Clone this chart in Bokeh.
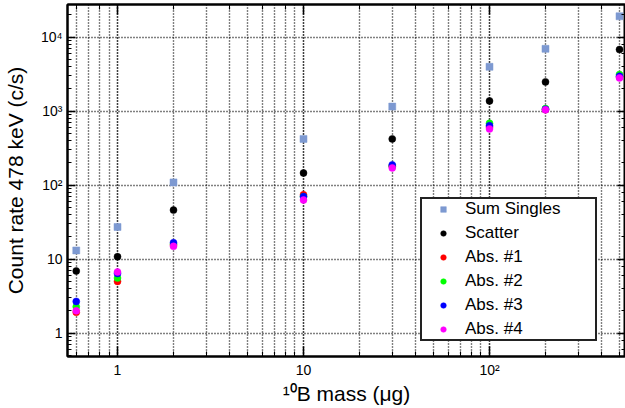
from bokeh.plotting import figure
from bokeh.models import (Range1d, LogAxis, LogTicker, Legend, LegendItem,
                          ColumnDataSource)
from bokeh.embed import file_html
from bokeh.resources import INLINE

# ---- data ----
mass = [0.6, 1, 2, 10, 30, 100, 200, 500]
sum_singles = [13.1, 27.2, 109, 422, 1154, 3980, 6970, 19200]
scatter = [6.9, 10.8, 46, 146, 422, 1378, 2490, 6820]
abs1 = [1.91, 5.0, 15.5, 74, 180, 610, 1050, 2900]
abs2 = [2.27, 5.55, 16.0, 70, 182, 686, 1084, 3130]
abs3 = [2.68, 6.4, 16.7, 70, 188, 638, 1060, 2970]
abs4 = [2.0, 6.7, 14.9, 63, 171, 576, 1042, 2820]

series_names = ["Sum Singles", "Scatter", "Abs. #1", "Abs. #2", "Abs. #3", "Abs. #4"]
series_values = [sum_singles, scatter, abs1, abs2, abs3, abs4]
series_colors = ["#7d99d1", "#000000", "#ff0000", "#00ff00", "#0000ff", "#ff00ff"]
series_markers = ["square", "circle", "circle", "circle", "circle", "circle"]

x_tick_labels = {1: "1", 10: "10", 100: "10\u00b2"}
y_tick_labels = {1: "1", 10: "10", 100: "10\u00b2", 1000: "10\u00b3", 10000: "10\u2074"}

x_title = "\u00b9\u2070B mass (\u03bcg)"
y_title = "Count rate 478 keV (c/s)"

FONT = "Liberation Sans"

p = figure(width=625, height=408, x_axis_type="log", y_axis_type="log",
           x_range=Range1d(0.5384, 538.5), y_range=Range1d(0.4825, 27700),
           output_backend="svg", toolbar_location=None,
           min_border_left=67, min_border_right=0, min_border_top=4,
           min_border_bottom=52, background_fill_color="white",
           border_fill_color="white")

p.outline_line_color = "black"
p.outline_line_width = 2

# grids
for g in (p.xgrid, p.ygrid):
    g.grid_line_color = "black"
    g.grid_line_dash = "1 2"
    g.grid_line_width = 1.4
p.xgrid.minor_grid_line_color = "black"
p.xgrid.minor_grid_line_dash = "1 2"
p.xgrid.minor_grid_line_width = 1.4


def style_axis(ax, tick_len, labels=True):
    ax.axis_line_color = "black"
    ax.axis_line_width = 2
    ax.major_tick_line_color = "black"
    ax.minor_tick_line_color = "black"
    ax.major_tick_line_width = 1.5
    ax.minor_tick_line_width = 1
    ax.major_tick_in = tick_len
    ax.major_tick_out = 0
    ax.minor_tick_in = tick_len // 2
    ax.minor_tick_out = 0
    if labels:
        ax.major_label_text_font = FONT
        ax.major_label_text_font_size = "14px"
        ax.major_label_text_color = "black"
        ax.axis_label_text_font = FONT
        ax.axis_label_text_font_style = "normal"
        ax.axis_label_text_color = "black"
    else:
        ax.major_label_text_font_size = "1px"
        ax.major_label_text_alpha = 0
        ax.major_label_standoff = 0


xa = p.xaxis[0]
style_axis(xa, 10)
xa.major_label_overrides = {float(k): v for k, v in x_tick_labels.items()}
xa.major_label_standoff = 5
xa.axis_label = x_title
xa.axis_label_text_font_size = "21px"
xa.axis_label_standoff = 1

ya = p.yaxis[0]
style_axis(ya, 8)
ya.major_label_overrides = {float(k): v for k, v in y_tick_labels.items()}
ya.major_label_standoff = 5
ya.axis_label = y_title
ya.axis_label_text_font_size = "21px"
ya.axis_label_standoff = 11

top = LogAxis(ticker=LogTicker())
style_axis(top, 10, labels=False)
p.add_layout(top, "above")
right = LogAxis(ticker=LogTicker())
style_axis(right, 8, labels=False)
p.add_layout(right, "right")

items = []
for name, vals, col, mk in zip(series_names, series_values, series_colors, series_markers):
    src = ColumnDataSource(dict(x=mass, y=vals))
    r = p.scatter("x", "y", source=src, marker=mk, size=7,
                  fill_color=col, line_color=col, line_width=0.5)
    items.append(LegendItem(label=name, renderers=[r]))

legend = Legend(items=items, location=(353, 15), orientation="vertical",
                label_text_font=FONT, label_text_font_size="17px",
                label_text_color="black", label_height=20, label_width=130,
                glyph_height=14, glyph_width=42, label_standoff=1,
                spacing=4, padding=0, margin=0,
                border_line_color="#222222", border_line_width=2,
                border_line_alpha=1,
                background_fill_color="white", background_fill_alpha=1)
p.add_layout(legend, "center")

open("out.html", "w").write(file_html(p, INLINE))
